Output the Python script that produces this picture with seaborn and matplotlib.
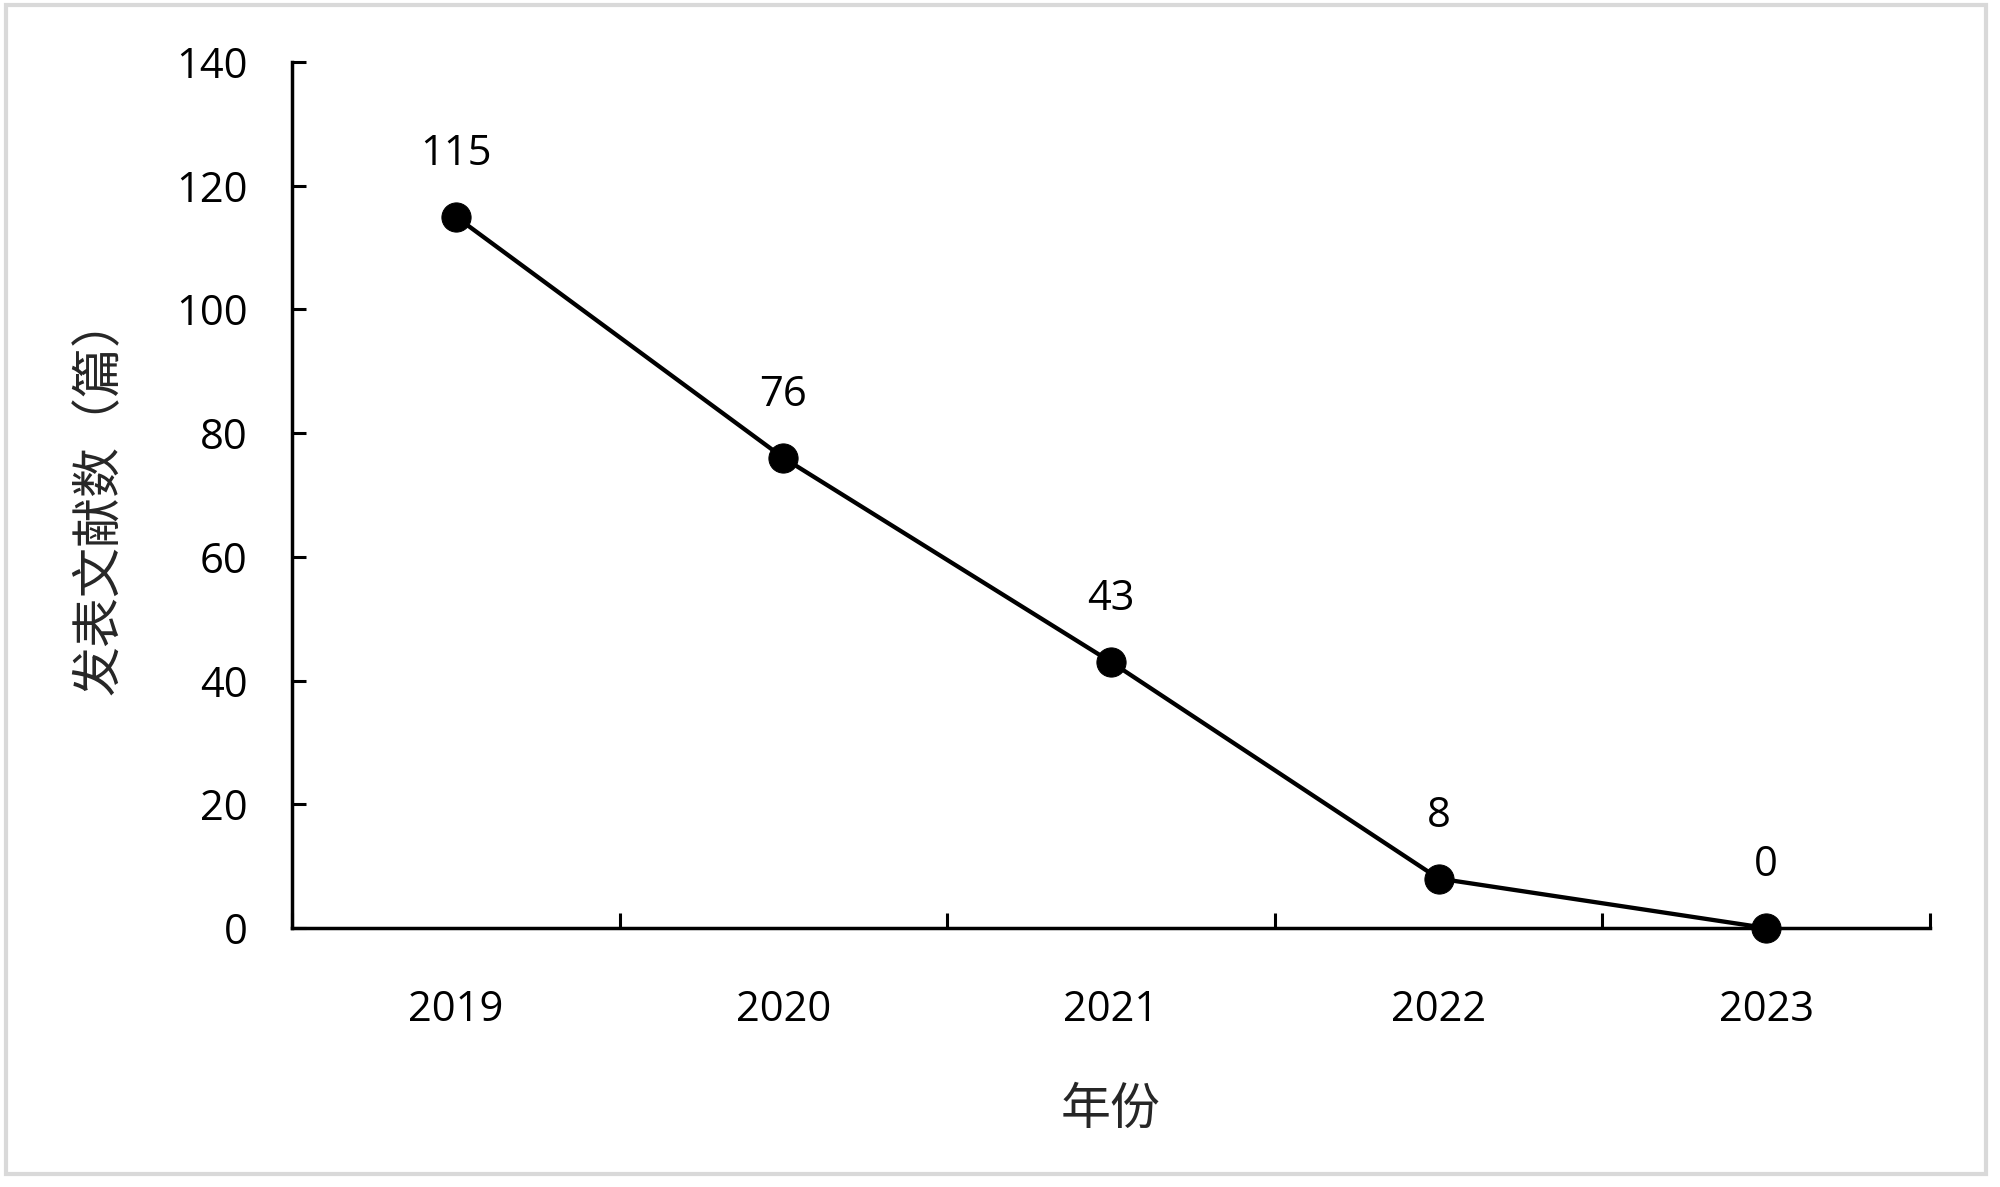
import numpy as np
import pandas as pd
import seaborn as sns
import matplotlib.pyplot as plt
from matplotlib.patches import Rectangle

years = ['2019', '2020', '2021', '2022', '2023']
counts = [115, 76, 43, 8, 0]
y_ticks = [0, 20, 40, 60, 80, 100, 120, 140]

df = pd.DataFrame({'pos': np.arange(len(years)), 'year': years, 'count': counts})

sns.set_theme(style='white')
plt.rcParams['font.family'] = ['Open Sans', 'Noto Sans CJK SC', 'DejaVu Sans']

fig = plt.figure(figsize=(20, 11.87), dpi=100)
ax = fig.add_axes([0.146, 0.2182, 0.819, 0.7296])

sns.lineplot(data=df, x='pos', y='count', ax=ax, color='black', linewidth=3.1,
             marker='o', markersize=21, markeredgecolor='black', markerfacecolor='black',
             clip_on=False, zorder=5)

for _, r in df.iterrows():
    ax.annotate(str(r['count']), (r['pos'], r['count']), xytext=(0, 30),
                textcoords='offset points', ha='center', va='bottom', fontsize=30,
                fontweight='medium', color='black')

ax.set_xlim(-0.5, len(years) - 0.5)
ax.set_ylim(0, 140)
ax.set_yticks(y_ticks)
ax.set_xticks(df['pos'])
ax.set_xticklabels(years)
ax.set_xticks(np.arange(len(years) + 1) - 0.5, minor=True)

ax.tick_params(axis='x', which='major', length=0, pad=44, labelsize=30, colors='black')
ax.tick_params(axis='x', which='minor', direction='in', length=11, width=2.2, color='black', bottom=True)
ax.tick_params(axis='y', direction='in', length=10, width=2.2, pad=32, labelsize=30, colors='black', left=True)
for lab in ax.get_xticklabels() + ax.get_yticklabels():
    lab.set_fontweight('medium')

for s in ['top', 'right']:
    ax.spines[s].set_visible(False)
for s in ['left', 'bottom']:
    ax.spines[s].set_color('black')
    ax.spines[s].set_linewidth(2.5)

ax.set_xlabel('年份', fontsize=36, labelpad=38, family=['Noto Sans CJK SC'])
ax.set_ylabel('发表文献数（篇）', fontsize=36, labelpad=36, family=['Noto Sans CJK SC'])

fig.patches.append(Rectangle((0.003, 0.011), 0.99, 0.985, transform=fig.transFigure,
                             fill=False, edgecolor='#d9d9d9', linewidth=3))

fig.savefig('out.png', dpi=100, facecolor='white')
